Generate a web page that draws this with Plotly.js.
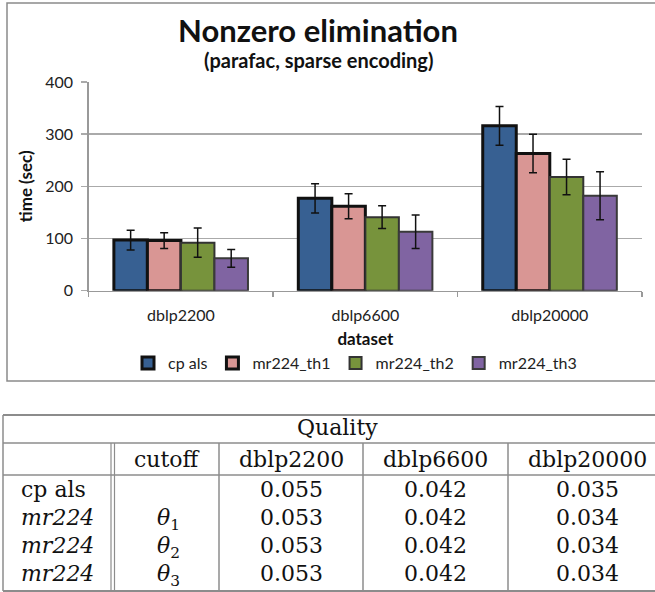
<!DOCTYPE html>
<html>
<head>
<meta charset="utf-8">
<script src="https://cdn.plot.ly/plotly-3.0.1.min.js"></script>
<style>html,body{margin:0;padding:0;background:#fff;}#chart{width:655px;height:592px;}</style>
</head>
<body>
<div id="chart"></div>
<script>
// ---- chart data ----
const datasets = ['dblp2200', 'dblp6600', 'dblp20000'];
const seriesNames = ['cp als', 'mr224_th1', 'mr224_th2', 'mr224_th3'];
const cpAls   = [97, 177, 316];
const mrTh1   = [96, 162, 263];
const mrTh2   = [92, 141, 218];
const mrTh3   = [62, 113, 182];
const cpAlsErr = [19, 28, 37];
const mrTh1Err = [15, 24, 37];
const mrTh2Err = [28, 22, 34];
const mrTh3Err = [17, 32, 46];
const yTicks = [0, 100, 200, 300, 400];

// ---- table data ----
const tableCaption = 'Quality';
const tableCols = ['cutoff', 'dblp2200', 'dblp6600', 'dblp20000'];
const methods = ['cp als', 'mr224', 'mr224', 'mr224'];
const methodItalic = [false, true, true, true];
const cutoffs = ['', '1', '2', '3'];
const q2200  = [0.055, 0.053, 0.053, 0.053];
const q6600  = [0.042, 0.042, 0.042, 0.042];
const q20000 = [0.035, 0.034, 0.034, 0.034];

// ---- helpers (pixel -> paper) ----
const W = 655, H = 592;
const px = v => v / W;
const py = v => 1 - v / H;

const colors = ['#376092', '#D99694', '#77933C', '#8064A2'];
const lineColors = ['#111111', '#111111', '#333333', '#3a3a3a'];
const lineWidths = [3, 3, 2, 2];
const values = [cpAls, mrTh1, mrTh2, mrTh3];
const errs = [cpAlsErr, mrTh1Err, mrTh2Err, mrTh3Err];

const traces = seriesNames.map((n, i) => ({
  type: 'bar', name: n, x: datasets, y: values[i],
  marker: {color: colors[i], line: {color: lineColors[i], width: lineWidths[i]}},
  error_y: {type: 'data', array: errs[i], visible: true, color: '#111', thickness: 1.5, width: 4},
  hoverinfo: 'x+y+name'
}));

const chartFont = 'Lato, "Open Sans", sans-serif';
const serif = '"DejaVu Serif", serif';

const shapes = [];
const annotations = [];

// chart frame
shapes.push({type: 'rect', xref: 'paper', yref: 'paper', x0: px(7), x1: px(662), y0: py(381), y1: py(3),
  line: {color: '#8a8a8a', width: 1.5}, fillcolor: 'rgba(0,0,0,0)', layer: 'below'});

// titles
annotations.push({xref: 'paper', yref: 'paper', x: px(318), y: py(30), xanchor: 'center', yanchor: 'middle',
  text: '<b>Nonzero elimination</b>', showarrow: false, font: {family: chartFont, size: 31, color: '#111'}});
annotations.push({xref: 'paper', yref: 'paper', x: px(318), y: py(60), xanchor: 'center', yanchor: 'middle',
  text: '<b>(parafac, sparse encoding)</b>', showarrow: false, font: {family: chartFont, size: 20, color: '#111'}});

// ---- table ----
const tLeft = 3, tRight = 680;
const tTop = 415, tCapBottom = 443, tHeadBottom = 475, tBottom = 591;
const vLines = [219, 363, 508];
const gridCol = '#8c8c8c';
function hline(y, x0, x1, w) {
  shapes.push({type: 'line', xref: 'paper', yref: 'paper', x0: px(x0), x1: px(x1), y0: py(y), y1: py(y), line: {color: gridCol, width: w || 1.5}});
}
function vline(x, y0, y1, w) {
  shapes.push({type: 'line', xref: 'paper', yref: 'paper', x0: px(x), x1: px(x), y0: py(y0), y1: py(y1), line: {color: gridCol, width: w || 1.5}});
}
hline(tTop, tLeft, tRight, 2);
hline(tCapBottom, tLeft, tRight);
hline(tHeadBottom, tLeft, tRight);
hline(tBottom, tLeft, tRight, 2);
vline(tLeft, tTop, tBottom);
vline(111, tCapBottom, tBottom, 1.2);
vline(114.5, tCapBottom, tBottom, 1.2);
vLines.forEach(x => vline(x, tCapBottom, tBottom));

function cell(text, x, y, anchor) {
  annotations.push({xref: 'paper', yref: 'paper', x: px(x), y: py(y), xanchor: anchor || 'center', yanchor: 'middle',
    text: text, showarrow: false, font: {family: serif, size: 22, color: '#111'}});
}
cell(tableCaption, 337, 427);
const colCenters = [167, 291, 435, 587];
tableCols.forEach((c, i) => cell(c, colCenters[i], 459));
const rowY = [489, 517, 545, 573];
methods.forEach((m, r) => {
  cell(methodItalic[r] ? '<i>' + m + '</i>' : m, 19, rowY[r], 'left');
  if (cutoffs[r]) cell('<i>θ</i><sub>' + cutoffs[r] + '</sub>', 168, rowY[r] + 2);
  cell(q2200[r].toFixed(3), colCenters[1], rowY[r]);
  cell(q6600[r].toFixed(3), colCenters[2], rowY[r]);
  cell(q20000[r].toFixed(3), colCenters[3], rowY[r]);
});

const layout = {
  width: W, height: H, autosize: false,
  margin: {l: 0, r: 0, t: 0, b: 0, pad: 0},
  paper_bgcolor: '#fff', plot_bgcolor: '#fff',
  font: {family: chartFont, size: 16, color: '#222'},
  barmode: 'group', bargap: 0.273, bargroupgap: 0,
  showlegend: true,
  legend: {orientation: 'h', x: px(128), y: py(363), xanchor: 'left', yanchor: 'middle',
    font: {family: chartFont, size: 16, color: '#222'}, itemwidth: 30, bgcolor: 'rgba(0,0,0,0)'},
  xaxis: {
    domain: [px(88.7), px(642)], type: 'category', categoryorder: 'array', categoryarray: datasets,
    tickson: 'boundaries', ticks: 'outside', ticklen: 5, tickcolor: '#999', tickwidth: 1.5,
    showline: true, linecolor: '#999', linewidth: 1.5, showgrid: false,
    ticklabelstandoff: 10,
    tickfont: {family: chartFont, size: 16, color: '#222'},
    title: {text: '<b>dataset</b>', standoff: 9, font: {family: chartFont, size: 17, color: '#111'}}
  },
  yaxis: {
    domain: [py(290.7), py(82)], range: [0, 400], tickvals: yTicks, ticktext: yTicks.map(String),
    ticks: 'outside', ticklen: 6, tickcolor: '#aaa', tickwidth: 1.5,
    showgrid: true, gridcolor: '#aaaaaa', gridwidth: 1.5, zeroline: false,
    showline: true, linecolor: '#999', linewidth: 1.5,
    ticklabelstandoff: 5,
    tickfont: {family: chartFont, size: 16, color: '#222'},
    title: {text: '<b>time (sec)</b>', standoff: 8, font: {family: chartFont, size: 17, color: '#111'}}
  },
  shapes: shapes,
  annotations: annotations
};

Plotly.newPlot('chart', traces, layout, {displayModeBar: false, staticPlot: true});
</script>
</body>
</html>
